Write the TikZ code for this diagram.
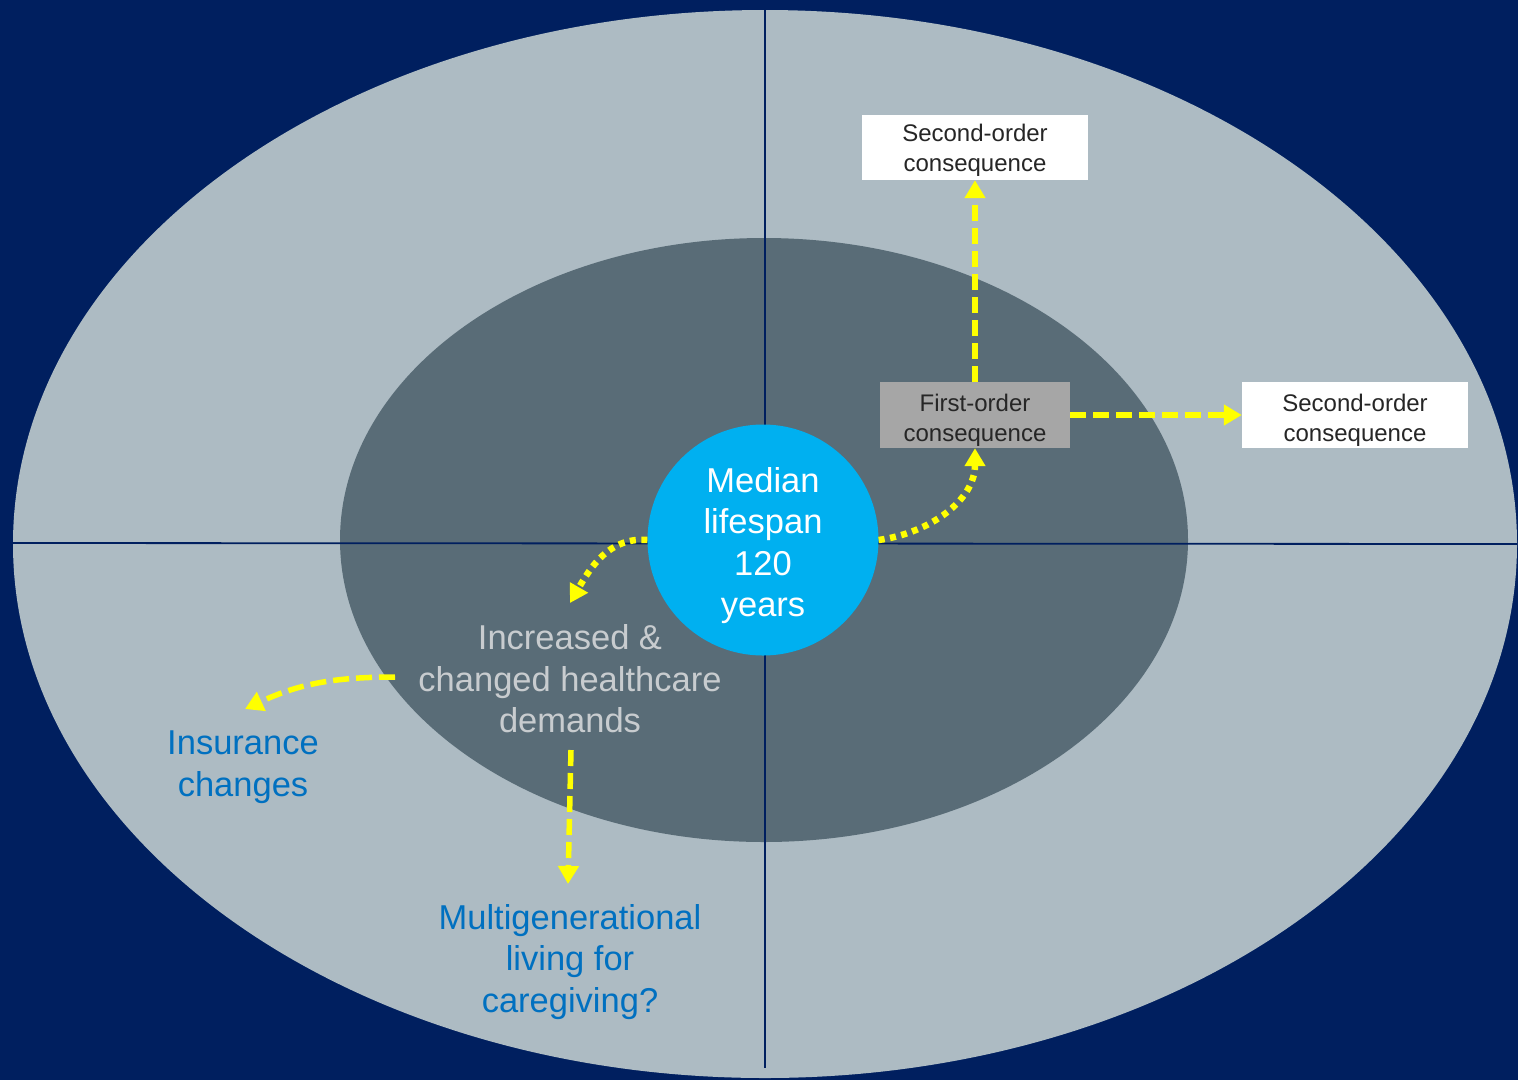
\documentclass[tikz,border=0pt]{standalone}
\usepackage{fontspec}
\setmainfont{Liberation Sans}
\usetikzlibrary{arrows.meta}
\definecolor{bgnavy}{HTML}{001F5F}
\definecolor{outerc}{HTML}{ADBBC3}
\definecolor{innerc}{HTML}{596C77}
\definecolor{circc}{HTML}{00B0F0}
\definecolor{boxgray}{HTML}{A6A6A6}
\definecolor{ylw}{HTML}{FFFF00}
\definecolor{bluetxt}{HTML}{0070C0}
\definecolor{lighttxt}{HTML}{C8CCCF}
\definecolor{darktxt}{HTML}{262626}
\newcommand{\lowered}[2]{\raisebox{#1}[\height][\depth]{\begin{tabular}{@{}c@{}}#2\end{tabular}}}
\begin{document}
\begin{tikzpicture}[x=1pt,y=-1pt,
  bigtxt/.style={align=center,font=\fontsize{34.5}{41.5}\selectfont,inner sep=4pt},
  boxtxt/.style={font=\fontsize{24}{30}\selectfont,text=darktxt,minimum width=226pt,minimum height=65pt,inner sep=0pt},
  dasharrow/.style={draw=ylw,line width=5.5pt,dash pattern=on 16pt off 7pt,-{Triangle[length=18pt,width=20pt]}},
  dotarrow/.style={draw=ylw,line width=6.5pt,dash pattern=on 6pt off 5.5pt,-{Triangle[length=18pt,width=20pt]}},
  axisline/.style={draw=bgnavy,line width=1.8pt}]
\fill[bgnavy] (0,0) rectangle (1518,1080);
\useasboundingbox (0,0) rectangle (1518,1080);
\fill[outerc] (765,544) ellipse [x radius=752pt, y radius=534pt];
\fill[innerc] (764,540) ellipse [x radius=424pt, y radius=302pt];
\draw[axisline] (765,10) -- (765,1068);
\draw[axisline] (13,543) -- (1517,544);
\node[circle,fill=circc,minimum size=231pt,inner sep=0pt,font=\fontsize{34.5}{41.5}\selectfont,text=white] (c) at (763,540) {\lowered{-6pt}{Median\\lifespan\\120\\years}};
\node[boxtxt,fill=boxgray,minimum width=190pt,minimum height=66pt] (f) at (975,415) {\lowered{-5pt}{First-order\\consequence}};
\node[boxtxt,fill=white] (s1) at (975,147.5) {\lowered{-3pt}{Second-order\\consequence}};
\node[boxtxt,fill=white,minimum height=66pt] (s2) at (1355,415) {\lowered{-5pt}{Second-order\\consequence}};
\node[bigtxt,text=lighttxt] (d) at (570,679) {Increased \&\\changed healthcare\\demands};
\node[bigtxt,text=bluetxt] (ins) at (243,767) {Insurance\\changes};
\node[bigtxt,text=bluetxt] (m) at (570,962) {Multigenerational\\living for\\caregiving?};
\coordinate (dtip) at (570,603);
\coordinate (dleft) at (395,677);
\coordinate (dbot) at (571,750);
\coordinate (instip) at (245,709);
\coordinate (mtip) at (568,884);
\draw[dasharrow] (f.north) -- (s1.south);
\draw[dasharrow] (f.east) -- (s2.west);
\draw[dotarrow] (c.east) to[out=8,in=-90] (f.south);
\draw[dotarrow] (c.west) to[out=175,in=60] (dtip);
\draw[dasharrow] (dleft) to[out=180,in=25] (instip);
\draw[dasharrow] (dbot) -- (mtip);
\end{tikzpicture}
\end{document}
